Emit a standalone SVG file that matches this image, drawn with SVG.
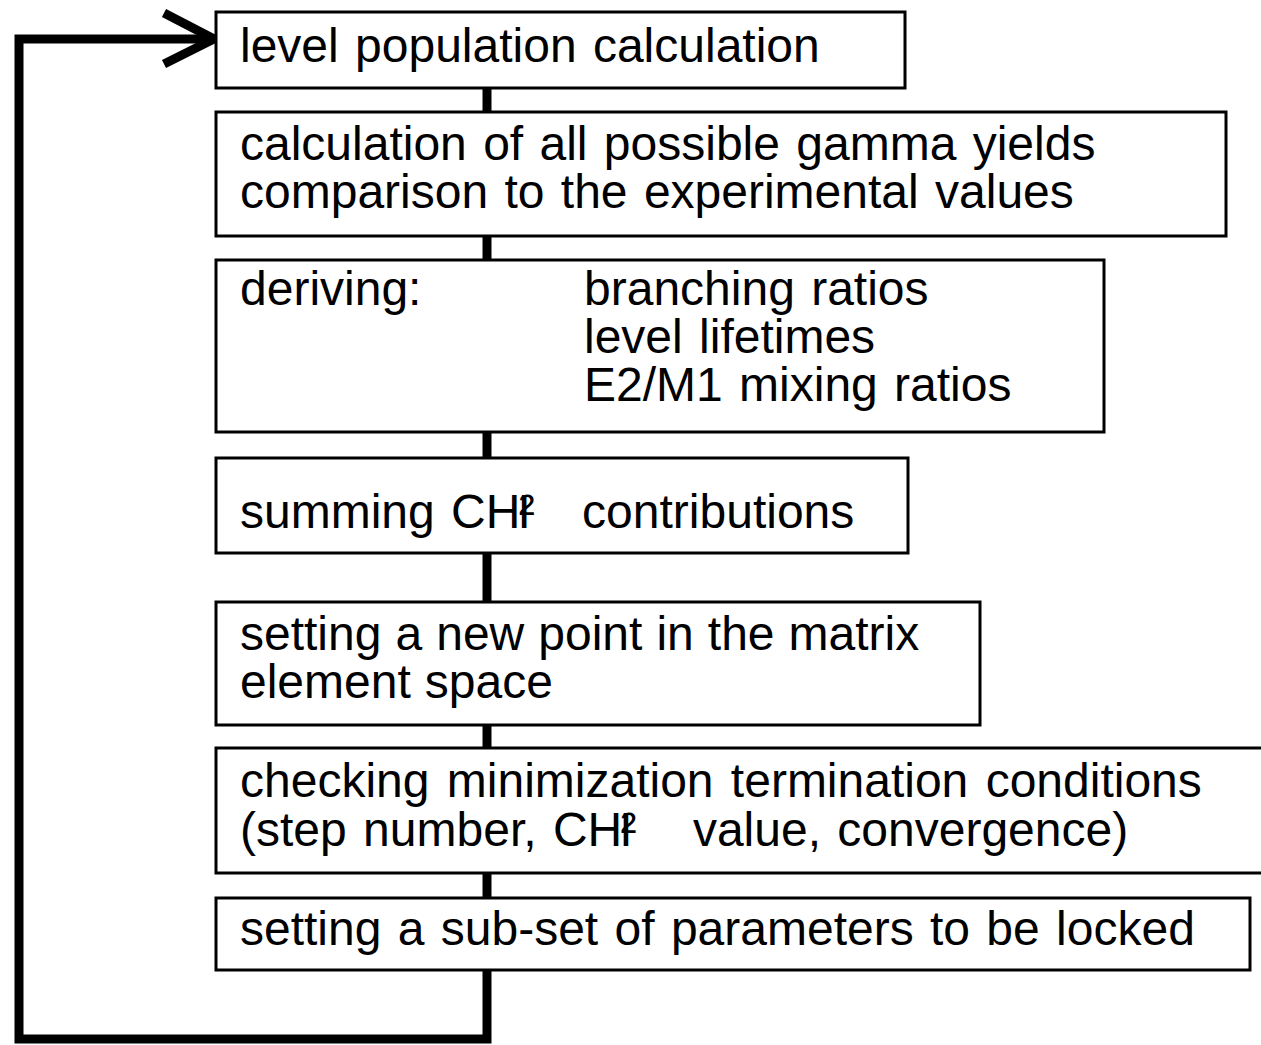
<svg xmlns="http://www.w3.org/2000/svg" width="1261" height="1045" viewBox="0 0 1261 1045">
<style>
.box{fill:#fff;stroke:#000;stroke-width:3}
.t{font-family:"Liberation Sans",Arial,sans-serif;font-size:48px;word-spacing:3px;fill:#000}
.c{fill:none;stroke:#000;stroke-width:9}
</style>
<rect width="1261" height="1045" fill="#fff"/>
<g id="connectors">
<line class="c" x1="487" y1="88" x2="487" y2="112"/>
<line class="c" x1="487" y1="236" x2="487" y2="260"/>
<line class="c" x1="487" y1="432" x2="487" y2="458"/>
<line class="c" x1="487" y1="553" x2="487" y2="602"/>
<line class="c" x1="487" y1="725" x2="487" y2="748"/>
<line class="c" x1="487" y1="873" x2="487" y2="898"/>
<polyline class="c" points="487,970 487,1039 19,1039 19,39 214,39"/>
<polyline class="c" points="164,13 214,39 164,64" stroke-linejoin="miter"/>
</g>
<g id="n1"><rect class="box" x="216" y="12" width="689" height="76"/>
<text class="t" x="240" y="62">level population calculation</text></g>
<g id="n2"><rect class="box" x="216" y="112" width="1010" height="124"/>
<text class="t" x="240" y="160">calculation of all possible gamma yields</text>
<text class="t" x="240" y="208">comparison to the experimental values</text></g>
<g id="n3"><rect class="box" x="216" y="260" width="888" height="172"/>
<text class="t" x="240" y="305">deriving:</text>
<text class="t" x="584" y="305">branching ratios</text>
<text class="t" x="584" y="353">level lifetimes</text>
<text class="t" x="584" y="401">E2/M1 mixing ratios</text></g>
<g id="n4"><rect class="box" x="216" y="458" width="692" height="95"/>
<text class="t" x="240" y="528" dx="0 0 0 0 0 0 0 0 0 0 -3 -12 0 31">summing CHI² contributions</text></g>
<g id="n5"><rect class="box" x="216" y="602" width="764" height="123"/>
<text class="t" x="240" y="650" style="word-spacing:0.7px">setting a new point in the matrix</text>
<text class="t" x="240" y="698" style="word-spacing:0.7px">element space</text></g>
<g id="n6"><rect class="box" x="216" y="748" width="1050" height="125"/>
<text class="t" x="240" y="797" style="word-spacing:4px">checking minimization termination conditions</text>
<text class="t" x="240" y="846" dx="0 0 0 0 0 0 0 0 0 0 0 0 0 0 0 0 -3 -12 0 40">(step number, CHI² value, convergence)</text></g>
<g id="n7"><rect class="box" x="216" y="898" width="1034" height="72"/>
<text class="t" x="240" y="945">setting a sub-set of parameters to be locked</text></g>
</svg>
